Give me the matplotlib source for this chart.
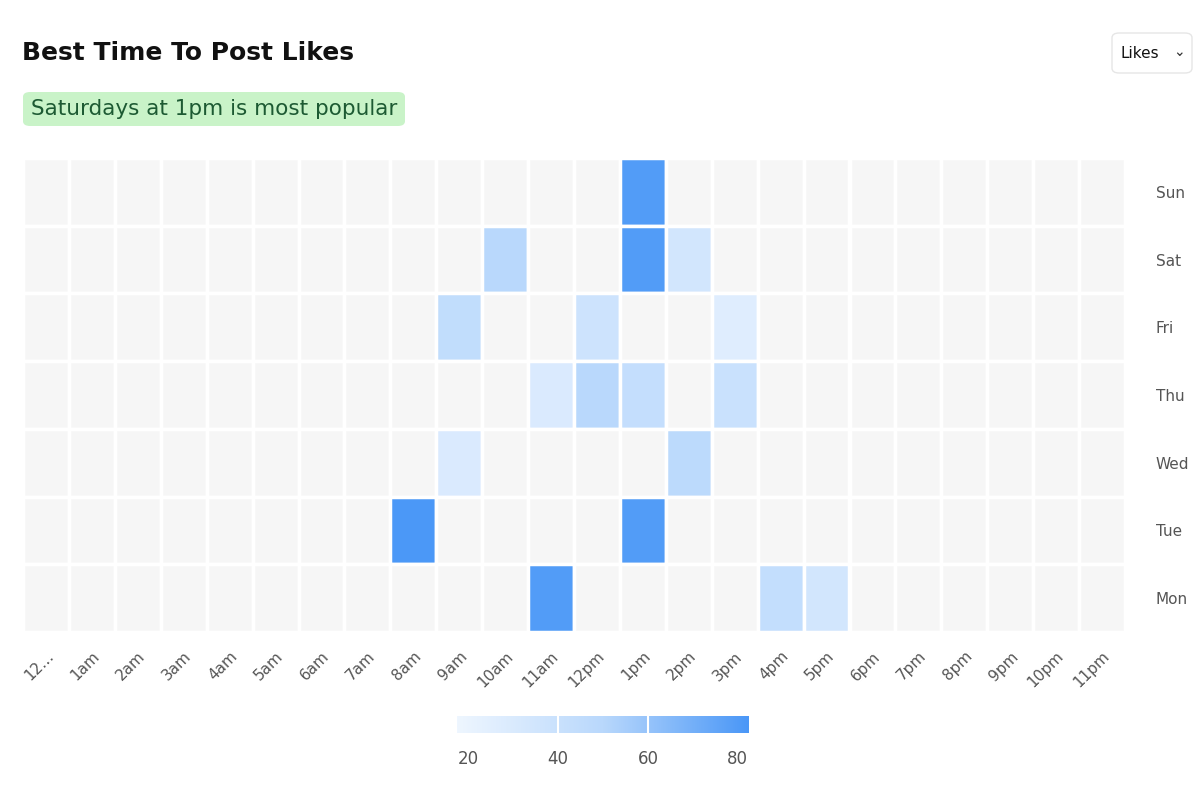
import numpy as np
import matplotlib
matplotlib.use('Agg')
import matplotlib.pyplot as plt
from matplotlib.colors import LinearSegmentedColormap, Normalize
from matplotlib.patches import FancyBboxPatch, Rectangle

hours = ['12am', '1am', '2am', '3am', '4am', '5am', '6am', '7am', '8am', '9am', '10am', '11am',
         '12pm', '1pm', '2pm', '3pm', '4pm', '5pm', '6pm', '7pm', '8pm', '9pm', '10pm', '11pm']
hour_labels = ['12…'] + hours[1:]
days = ['Sun', 'Sat', 'Fri', 'Thu', 'Wed', 'Tue', 'Mon']
# (day, hour index, likes)
cells = [
    ('Sun', 13, 80),
    ('Sat', 10, 50), ('Sat', 13, 80), ('Sat', 14, 35),
    ('Fri', 9, 45), ('Fri', 12, 38), ('Fri', 15, 27),
    ('Thu', 11, 30), ('Thu', 12, 50), ('Thu', 13, 43), ('Thu', 15, 40),
    ('Wed', 9, 30), ('Wed', 14, 48),
    ('Tue', 8, 82), ('Tue', 13, 80),
    ('Mon', 11, 80), ('Mon', 16, 44), ('Mon', 17, 35),
]

cmap = LinearSegmentedColormap.from_list('likes', ['#eef6ff', '#b9d8fc', '#4a97f7'])
norm = Normalize(17.5, 82.5)

fig = plt.figure(figsize=(11.99, 8.0), dpi=100)
ax = fig.add_axes([23/1199, 1 - 632/800, 1102/1199, 474/800])

values = {(d, h): v for d, h, v in cells}
for r, d in enumerate(days):
    for h in range(24):
        v = values.get((d, h))
        color = '#f6f6f6' if v is None else cmap(norm(v))
        ax.add_patch(Rectangle((h, r), 1, 1, facecolor=color, edgecolor='white', linewidth=2.5))
ax.set_xlim(0, 24)
ax.set_ylim(7, 0)
for s in ax.spines.values():
    s.set_visible(False)
ax.set_xticks(np.arange(24) + 0.5)
ax.set_xticklabels(hour_labels, rotation=45, ha='right', rotation_mode='anchor', fontsize=11, color='#555555')
ax.set_yticks(np.arange(7) + 0.5)
ax.set_yticklabels(days, fontsize=11, color='#555555')
ax.yaxis.tick_right()
ax.tick_params(length=0, pad=12)
ax.tick_params(axis='y', pad=22)

cax = fig.add_axes([457/1199, 1 - 733/800, 292/1199, 17/800])
grad = np.linspace(17.5, 82.5, 256).reshape(1, -1)
cax.imshow(grad, aspect='auto', cmap=cmap, norm=norm, extent=[17.5, 82.5, 0, 1])
for x in [40, 60]:
    cax.axvline(x, color='white', linewidth=1.5)
cax.set_yticks([])
cax.set_xticks([20, 40, 60, 80])
cax.tick_params(length=0, labelsize=12, labelcolor='#555555', pad=12)
for s in cax.spines.values():
    s.set_visible(False)

fig.text(22/1199, 1 - 53/800, 'Best Time To Post Likes', fontsize=18, fontweight='bold',
         family='DejaVu Sans', va='center', color='#111111')
badge = FancyBboxPatch((23/1199, 1 - 126/800), 382/1199, 34/800, transform=fig.transFigure,
                       boxstyle='round,pad=0,rounding_size=0.006', facecolor='#c9f3c8', edgecolor='none')
fig.patches.append(badge)
fig.text(31/1199, 1 - 109/800, 'Saturdays at 1pm is most popular', fontsize=15.5, family='DejaVu Sans',
         va='center', color='#1d5a33')
btn = FancyBboxPatch((1112/1199, 1 - 73/800), 80/1199, 40/800, transform=fig.transFigure,
                     boxstyle='round,pad=0,rounding_size=0.006', facecolor='white', edgecolor='#e6e6e6')
fig.patches.append(btn)
fig.text(1121/1199, 1 - 53/800, 'Likes', fontsize=11, family='DejaVu Sans', va='center', color='#111111')
fig.text(1173/1199, 1 - 52/800, '⌄', fontsize=10, va='center', color='#333333')

fig.savefig('out.png', dpi=100)
